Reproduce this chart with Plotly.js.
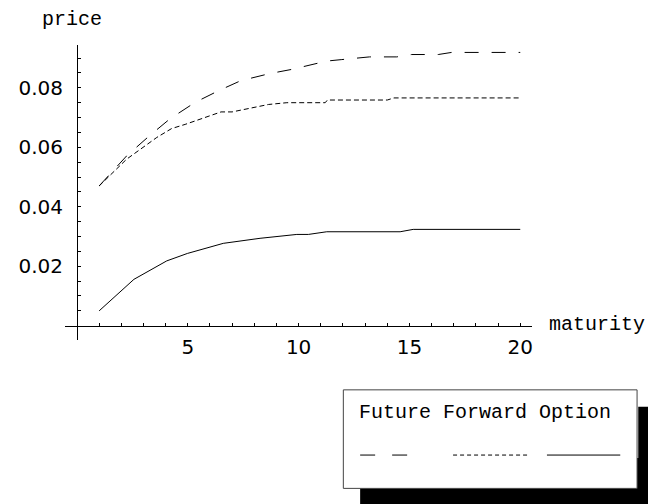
<!DOCTYPE html>
<html>
<head>
<meta charset="utf-8">
<script src="https://cdn.plot.ly/plotly-3.0.1.min.js"></script>
<style>
  html, body { margin: 0; padding: 0; background: #fff; overflow: hidden; }
  #chart { width: 648px; height: 504px; }
</style>
</head>
<body>
<div id="chart"></div>
<script>
// ---- data ----
const seriesNames = ["Future", "Forward", "Option"];

const futureMaturity = [1, 2.24, 3.26, 4.2, 5.33, 6.38, 7.39, 8.7, 9.69, 11.27, 11.95, 12.6, 13.2, 14.43, 15.1, 16.3, 16.9, 20];
const futurePrice    = [0.047, 0.0571, 0.0638, 0.0696, 0.0751, 0.079, 0.0824, 0.0848, 0.0862, 0.089, 0.0895, 0.0899, 0.0904, 0.0904, 0.0912, 0.0912, 0.0919, 0.0919];

const forwardMaturity = [1, 2.24, 3.6, 4.27, 4.88, 5.25, 6.3, 6.5, 7.0, 7.8, 8.64, 9.47, 11.2, 11.3, 14.0, 14.3, 20];
const forwardPrice    = [0.047, 0.056, 0.0633, 0.0663, 0.0677, 0.0686, 0.0714, 0.0719, 0.0719, 0.073, 0.0744, 0.075, 0.075, 0.0759, 0.0759, 0.0766, 0.0766];

const optionMaturity = [1, 2.57, 4.05, 4.98, 6.6, 8.26, 9.92, 10.44, 11.27, 14.58, 15.17, 20];
const optionPrice    = [0.005, 0.0156, 0.0218, 0.0243, 0.0277, 0.0294, 0.0307, 0.0307, 0.0316, 0.0316, 0.0324, 0.0324];

const xTickVals = [1,2,3,4,5,6,7,8,9,10,11,12,13,14,15,16,17,18,19,20];
const xTickText = ["","","","","5","","","","","10","","","","","15","","","","","20"];
const yTickVals = [0.005,0.01,0.015,0.02,0.025,0.03,0.035,0.04,0.045,0.05,0.055,0.06,0.065,0.07,0.075,0.08,0.085,0.09];
const yTickText = ["","","","0.02","","","","0.04","","","","0.06","","","","0.08","",""];

const xTitle = "maturity";
const yTitle = "price";

// ---- styles ----
const mono = "Liberation Mono, Courier New, monospace";
const numFont = "DejaVu Sans, sans-serif";
const xRange = [-0.54, 20.53];
const yRange = [-0.0048, 0.0944];

const traces = [
  { x: futureMaturity, y: futurePrice, name: seriesNames[0], mode: "lines",
    line: { color: "#000", width: 1, dash: "14px,13px" } },
  { x: forwardMaturity, y: forwardPrice, name: seriesNames[1], mode: "lines",
    line: { color: "#000", width: 1, dash: "5px,3px" } },
  { x: optionMaturity, y: optionPrice, name: seriesNames[2], mode: "lines",
    line: { color: "#000", width: 1 } }
];

const layout = {
  width: 648, height: 504,
  margin: { l: 65, r: 116.3, t: 45, b: 164, pad: 0 },
  paper_bgcolor: "#fff", plot_bgcolor: "#fff",
  showlegend: false,
  xaxis: {
    range: xRange, anchor: "free", position: (0 - yRange[0]) / (yRange[1] - yRange[0]),
    showgrid: false, zeroline: false, showline: true, linecolor: "#000", linewidth: 1,
    tickmode: "array", tickvals: xTickVals, ticktext: xTickText,
    ticks: "inside", ticklen: 3, tickwidth: 1, tickcolor: "#000",
    ticklabelstandoff: 3,
    tickfont: { family: numFont, size: 20, color: "#000" }
  },
  yaxis: {
    range: yRange, anchor: "free", position: (0 - xRange[0]) / (xRange[1] - xRange[0]),
    showgrid: false, zeroline: false, showline: true, linecolor: "#000", linewidth: 1,
    tickmode: "array", tickvals: yTickVals, ticktext: yTickText,
    ticks: "inside", ticklen: 3, tickwidth: 1, tickcolor: "#000",
    ticklabelstandoff: 10,
    tickfont: { family: numFont, size: 20, color: "#000" }
  },
  annotations: [
    { text: yTitle, xref: "paper", yref: "paper", x: 0.0144, y: 1.088,
      xanchor: "center", yanchor: "middle", showarrow: false,
      font: { family: mono, size: 20, color: "#000" } },
    { text: xTitle, xref: "paper", yref: "paper", x: 1.139, y: 0.054,
      xanchor: "center", yanchor: "middle", showarrow: false,
      font: { family: mono, size: 20, color: "#000" } },
    { text: seriesNames.join(" "), xref: "paper", yref: "paper", x: 0.9, y: -0.246,
      xanchor: "center", yanchor: "middle", showarrow: false,
      font: { family: mono, size: 20, color: "#000" } }
  ],
  shapes: [
    // legend shadow, bottom part
    { type: "rect", xref: "paper", yref: "paper", x0: 0.632, x1: 1.249, y0: -0.556, y1: -0.40,
      fillcolor: "#000", line: { width: 0 } },
    // legend box
    { type: "rect", xref: "paper", yref: "paper", x0: 0.596, x1: 1.225, y0: -0.503, y1: -0.169,
      fillcolor: "#fff", line: { color: "#444", width: 1 } },
    // legend shadow, right part (drawn after the box)
    { type: "rect", xref: "paper", yref: "paper", x0: 1.2275, x1: 1.249, y0: -0.556, y1: -0.226,
      fillcolor: "#000", line: { width: 0 } },
    // legend samples
    { type: "line", xref: "paper", yref: "paper", x0: 0.632, x1: 0.761, y0: -0.390, y1: -0.390,
      line: { color: "#000", width: 1, dash: "15px,17px" } },
    { type: "line", xref: "paper", yref: "paper", x0: 0.831, x1: 0.992, y0: -0.390, y1: -0.390,
      line: { color: "#000", width: 1, dash: "4px,3px" } },
    { type: "line", xref: "paper", yref: "paper", x0: 1.032, x1: 1.189, y0: -0.390, y1: -0.390,
      line: { color: "#000", width: 1 } }
  ]
};

Plotly.newPlot("chart", traces, layout, { staticPlot: true, displayModeBar: false });
</script>
</body>
</html>
